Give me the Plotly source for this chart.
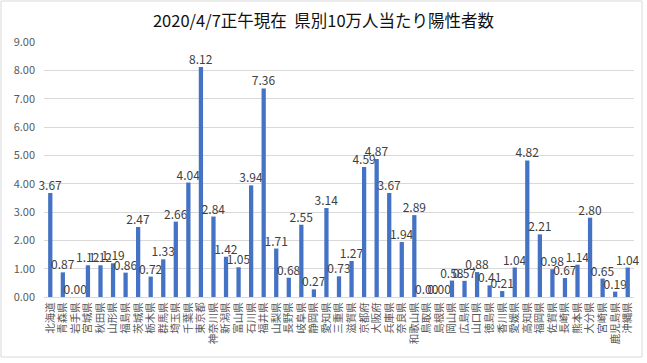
import plotly.graph_objects as go

prefectures = ["北海道", "青森県", "岩手県", "宮城県", "秋田県", "山形県", "福島県", "茨城県", "栃木県", "群馬県",
               "埼玉県", "千葉県", "東京都", "神奈川県", "新潟県", "富山県", "石川県", "福井県", "山梨県", "長野県",
               "岐阜県", "静岡県", "愛知県", "三重県", "滋賀県", "京都府", "大阪府", "兵庫県", "奈良県", "和歌山県",
               "鳥取県", "島根県", "岡山県", "広島県", "山口県", "徳島県", "香川県", "愛媛県", "高知県", "福岡県",
               "佐賀県", "長崎県", "熊本県", "大分県", "宮崎県", "鹿児島県", "沖縄県"]
values = [3.67, 0.87, 0.00, 1.12, 1.12, 1.19, 0.86, 2.47, 0.72, 1.33,
          2.66, 4.04, 8.12, 2.84, 1.42, 1.05, 3.94, 7.36, 1.71, 0.68,
          2.55, 0.27, 3.14, 0.73, 1.27, 4.59, 4.87, 3.67, 1.94, 2.89,
          0.00, 0.00, 0.58, 0.57, 0.88, 0.41, 0.21, 1.04, 4.82, 2.21,
          0.98, 0.67, 1.14, 2.80, 0.65, 0.19, 1.04]
y_ticks = [0, 1, 2, 3, 4, 5, 6, 7, 8, 9]
title_text = "2020/4/7正午現在  県別10万人当たり陽性者数"

FONT = "Noto Sans CJK JP"

fig = go.Figure(go.Bar(
    x=prefectures, y=values,
    marker=dict(color="#4472C4", line=dict(width=0)),
    texttemplate="%{y:.2f}", textposition="outside",
    constraintext="none",
    textfont=dict(family=FONT, size=12, color="#404040"),
    cliponaxis=False,
))

L, R, T, B = 44, 13, 42, 66
W, H = 647, 363
pw, ph = W - L - R, H - T - B

fig.update_layout(
    width=W, height=H,
    margin=dict(l=L, r=R, t=T, b=B, autoexpand=False),
    paper_bgcolor="white", plot_bgcolor="white",
    bargap=0.66,
    showlegend=False,
    title=dict(text=title_text, x=0.5, xanchor="center", y=1 - 21 / H, yanchor="middle",
               font=dict(family=FONT, size=16.5, color="#111111")),
    font=dict(family=FONT),
    xaxis=dict(tickangle=-90, tickmode="linear", dtick=1,
               tickfont=dict(family=FONT, size=10.5, color="#595959"),
               showgrid=False, showline=True, linecolor="#d9d9d9", ticks=""),
    yaxis=dict(range=[0, 9], tickvals=y_ticks, tickformat=".2f",
               tickfont=dict(family=FONT, size=11, color="#595959"),
               showgrid=True, gridcolor="#d9d9d9", gridwidth=1, zeroline=False,
               showline=False, ticks="", ticklabelstandoff=8),
    shapes=[dict(type="rect", xref="paper", yref="paper",
                 x0=(1 - L) / pw, x1=(642 - L) / pw,
                 y0=(T + ph - 357) / ph, y1=(T + ph - 1) / ph,
                 line=dict(color="#d9d9d9", width=1), fillcolor="rgba(0,0,0,0)", layer="below")],
)

fig.write_html("out.html", config={"displayModeBar": False},
               post_script="document.body.style.margin='0';")
